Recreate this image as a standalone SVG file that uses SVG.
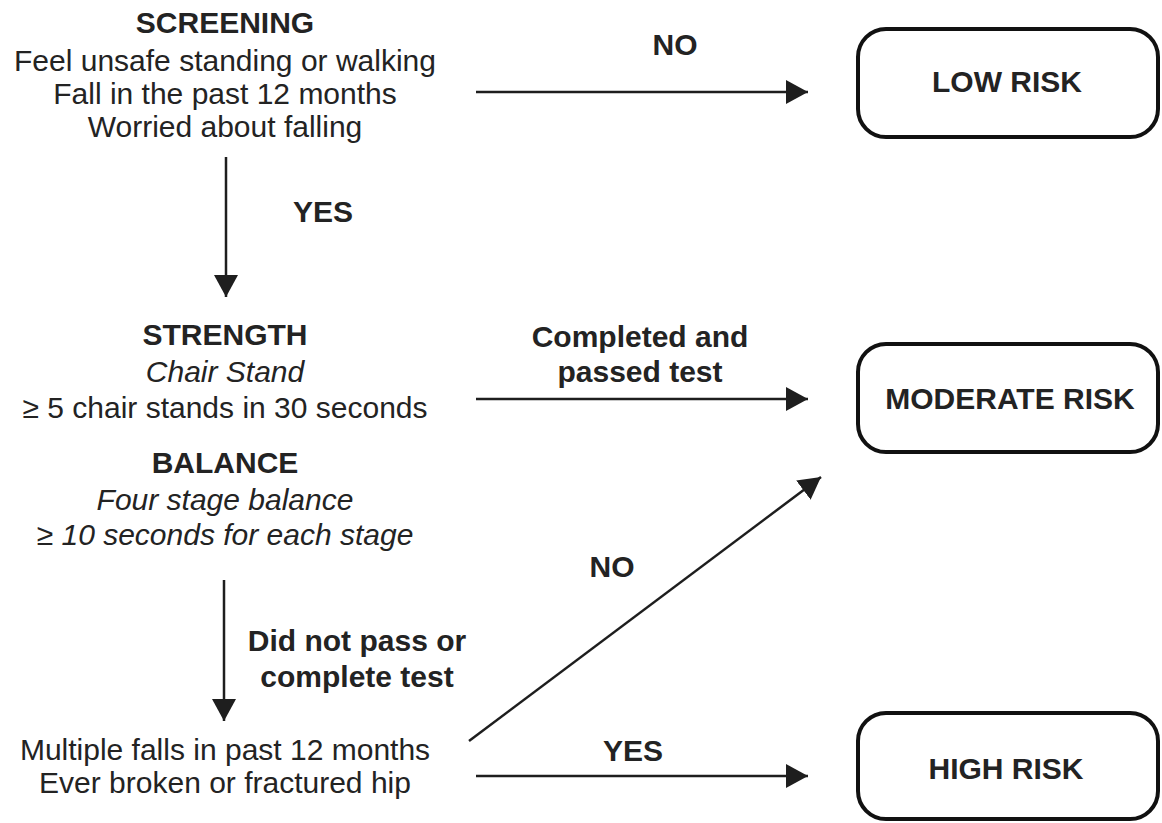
<svg xmlns="http://www.w3.org/2000/svg" width="1162" height="823" viewBox="0 0 1162 823">
<defs>
<marker id="ah" markerUnits="userSpaceOnUse" markerWidth="24" markerHeight="26" refX="22" refY="12" orient="auto">
<path d="M0,0 L22,12 L0,24 Z" fill="#1e1e1e"/>
</marker>
<style>
.t{font-family:"Liberation Sans",Arial,sans-serif;font-size:30px;fill:#232323;text-anchor:middle}
.b{font-weight:bold}
.i{font-style:italic}
.box{fill:#fff;stroke:#111;stroke-width:4}
.c{stroke:#1e1e1e;stroke-width:2.5;fill:none;marker-end:url(#ah)}
</style>
</defs>
<rect width="1162" height="823" fill="#fff"/>
<g id="screening">
<text class="t b" x="225" y="33">SCREENING</text>
<text class="t" x="225" y="71">Feel unsafe standing or walking</text>
<text class="t" x="225" y="104">Fall in the past 12 months</text>
<text class="t" x="225" y="137">Worried about falling</text>
</g>
<g id="strength">
<text class="t b" x="225" y="345">STRENGTH</text>
<text class="t i" x="225" y="382">Chair Stand</text>
<text class="t" x="225" y="418">≥ 5 chair stands in 30 seconds</text>
</g>
<g id="balance">
<text class="t b" x="225" y="473">BALANCE</text>
<text class="t i" x="225" y="510">Four stage balance</text>
<text class="t i" x="225" y="545">≥ 10 seconds for each stage</text>
</g>
<g id="history">
<text class="t" x="225" y="760">Multiple falls in past 12 months</text>
<text class="t" x="225" y="793">Ever broken or fractured hip</text>
</g>
<g id="low-risk">
<rect class="box" x="858" y="29" width="300" height="108" rx="28"/>
<text class="t b" x="1007" y="92">LOW RISK</text>
</g>
<g id="moderate-risk">
<rect class="box" x="858" y="344" width="300" height="108" rx="28"/>
<text class="t b" x="1010" y="409">MODERATE RISK</text>
</g>
<g id="high-risk">
<rect class="box" x="858" y="713" width="300" height="106" rx="28"/>
<text class="t b" x="1006" y="779">HIGH RISK</text>
</g>
<g id="connectors">
<line class="c" x1="476" y1="92" x2="808" y2="92"/>
<line class="c" x1="226" y1="157" x2="226" y2="297"/>
<line class="c" x1="476" y1="399" x2="808" y2="399"/>
<line class="c" x1="469" y1="741" x2="821" y2="477"/>
<line class="c" x1="224" y1="580" x2="224" y2="721"/>
<line class="c" x1="476" y1="776" x2="808" y2="776"/>
<text class="t b" x="675" y="55">NO</text>
<text class="t b" x="323" y="222">YES</text>
<text class="t b" x="640" y="347">Completed and</text>
<text class="t b" x="640" y="382">passed test</text>
<text class="t b" x="612" y="577">NO</text>
<text class="t b" x="357" y="651">Did not pass or</text>
<text class="t b" x="357" y="687">complete test</text>
<text class="t b" x="633" y="761">YES</text>
</g>
</svg>
